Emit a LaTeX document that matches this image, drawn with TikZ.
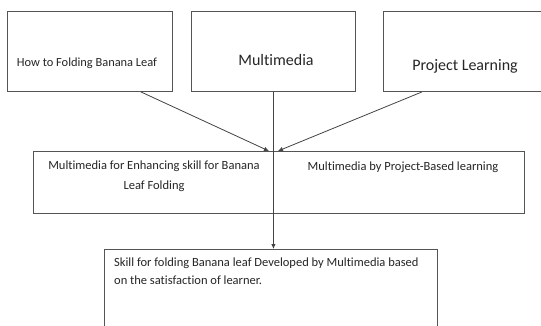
\documentclass[tikz,border=0pt]{standalone}
\usepackage{fontspec}
\setmainfont{Carlito}[Ligatures=NoCommon]
\usetikzlibrary{arrows.meta,calc}
\definecolor{boxline}{HTML}{555555}
\definecolor{txt}{HTML}{262626}
\tikzset{
  box/.style={draw=boxline, line width=0.9pt, rectangle, inner sep=0pt, anchor=north west},
  lbl/.style={text=txt, inner sep=0pt},
  conn/.style={draw=boxline!80!black, line width=0.8pt, -{Latex[length=5pt,width=4.5pt]}},
}
\begin{document}
\begin{tikzpicture}[x=1pt,y=-1pt]
\clip (0,0) rectangle (541,325);
\fill[white] (0,0) rectangle (541,325);
% boxes
\node[box, minimum width=165pt, minimum height=80pt] (b1) at (7,11) {};
\node[box, minimum width=164pt, minimum height=80pt] (b2) at (191,11) {};
\node[box, minimum width=164pt, minimum height=80pt] (b3) at (383,11) {};
\node[box, minimum width=491pt, minimum height=62pt] (b4) at (33,151) {};
\node[box, minimum width=333pt, minimum height=100pt] (b5) at (104,249) {};
% texts
\node[lbl, anchor=base, font=\fontsize{12.4pt}{14pt}\selectfont] (t1) at (87,66) {How to Folding Banana Leaf};
\node[lbl, anchor=base, font=\fontsize{16pt}{19pt}\selectfont] (t2) at (276,65) {Multimedia};
\node[lbl, anchor=base, font=\fontsize{16pt}{19pt}\selectfont] (t3) at (465,70) {Project Learning};
\node[lbl, anchor=north, align=center, font=\fontsize{12.5pt}{20pt}\selectfont] (t4) at (154,161) {Multimedia for Enhancing skill for Banana\\Leaf Folding};
\node[lbl, anchor=base, font=\fontsize{12.5pt}{20pt}\selectfont] (t5) at (403,170) {Multimedia by Project-Based learning};
\node[lbl, anchor=north west, align=left, font=\fontsize{12.5pt}{18pt}\selectfont] (t6) at (114,258) {Skill for folding Banana leaf Developed by Multimedia based\\on the satisfaction of learner.};
% connectors
\coordinate (m) at (b2.south);
\draw[conn] ([xshift=-32pt]b1.south east) -- ($(m |- b4.north)+(-4.5,0)$);
\draw[conn] ([xshift=39pt]b3.south west) -- ($(m |- b4.north)+(4.5,0)$);
\draw[conn] (b2.south) -- (m |- b5.north);
\end{tikzpicture}
\end{document}
